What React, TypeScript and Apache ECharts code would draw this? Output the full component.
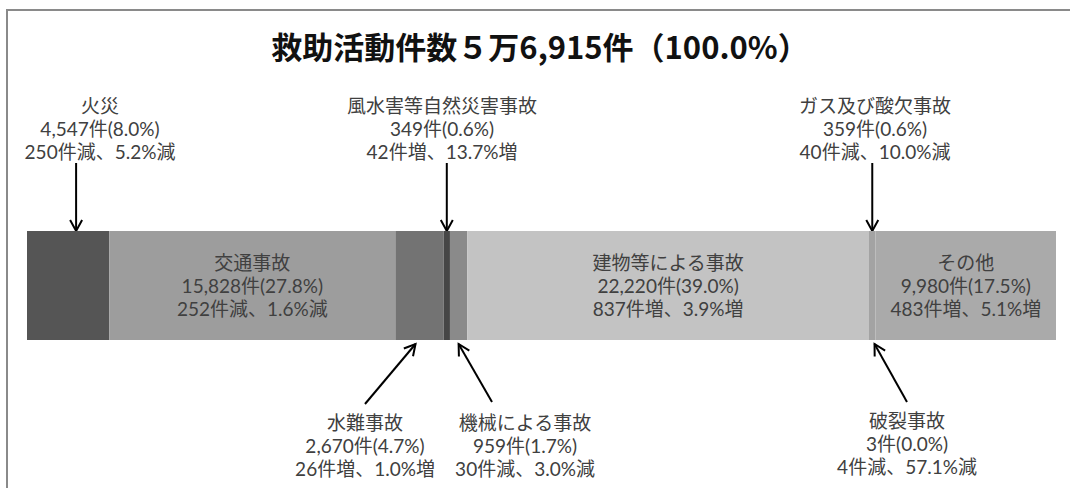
import React, { useEffect, useRef } from "react";
import * as echarts from "echarts";

const categories = [
  "火災",
  "交通事故",
  "水難事故",
  "風水害等自然災害事故",
  "機械による事故",
  "建物等による事故",
  "ガス及び酸欠事故",
  "破裂事故",
  "その他",
];
const counts = [4547, 15828, 2670, 349, 959, 22220, 359, 3, 9980];
const shares = [8.0, 27.8, 4.7, 0.6, 1.7, 39.0, 0.6, 0.0, 17.5];
const changeCounts = [-250, -252, 26, 42, -30, 837, -40, -4, 483];
const changeRates = [-5.2, -1.6, 1.0, 13.7, -3.0, 3.9, -10.0, -57.1, 5.1];
const colors = ["#555555", "#9d9d9d", "#737373", "#464646", "#8a8a8a", "#c3c3c3", "#a3a3a3", "#8c8c8c", "#aaaaaa"];
const total = 56915;
const titleText = "救助活動件数５万6,915件（100.0%）";
const insideLabelIdx = [1, 5, 8];

// callout layout (text block positions, arrow tails / tip nudges)
const callouts = [
  { idx: 0, side: "top", tx: 100, ty: 105, tipDx: 8 },
  { idx: 3, side: "top", tx: 442, ty: 105, tipDx: 0 },
  { idx: 6, side: "top", tx: 875, ty: 105, tipDx: 0 },
  { idx: 2, side: "bottom", tx: 365, ty: 422, tailX: 365, tailY: 404, tipDx: -4 },
  { idx: 4, side: "bottom", tx: 525, ty: 422, tailX: 492, tailY: 402, tipDx: 0 },
  { idx: 7, side: "bottom", tx: 907, ty: 420, tailX: 907, tailY: 402, tipDx: -1 },
];

const FONT = 'Lato, "Noto Sans CJK JP", sans-serif';
const TITLE_FONT = '"Noto Sans CJK JP", sans-serif';
const GRID_TOP = 231;
const GRID_H = 109;
const LINE_H = 23;
const LABEL_SIZE = 19;
const TEXT_COLOR = "#404040";

function fmtChange(i: number) {
  const c = changeCounts[i];
  const r = changeRates[i];
  const w = c >= 0 ? "増" : "減";
  return `${Math.abs(c)}件${w}、${Math.abs(r).toFixed(1)}%${w}`;
}
function labelLines(i: number) {
  return [
    categories[i],
    `${counts[i].toLocaleString("en-US")}件(${shares[i].toFixed(1)}%)`,
    fmtChange(i),
  ];
}

function textLines(i: number, x: number, yFirst: number) {
  return labelLines(i).map((t, k) => ({
    type: "text",
    x,
    y: yFirst + k * LINE_H,
    z: 10,
    style: {
      text: t,
      fill: TEXT_COLOR,
      fontSize: LABEL_SIZE,
      fontFamily: FONT,
      align: "center",
      verticalAlign: "middle",
      textAlign: "center",
      textVerticalAlign: "middle",
    },
    silent: true,
  }));
}

function arrow(x1: number, y1: number, x2: number, y2: number) {
  const dx = x2 - x1;
  const dy = y2 - y1;
  const len = Math.sqrt(dx * dx + dy * dy);
  const ux = dx / len;
  const uy = dy / len;
  const px = -uy;
  const py = ux;
  const hl = 11;
  const hw = 6;
  return [
    {
      type: "line",
      shape: { x1, y1, x2, y2 },
      style: { stroke: "#000", lineWidth: 2 },
      silent: true,
    },
    {
      type: "polyline",
      shape: {
        points: [
          [x2 - hl * ux + hw * px, y2 - hl * uy + hw * py],
          [x2, y2],
          [x2 - hl * ux - hw * px, y2 - hl * uy - hw * py],
        ],
      },
      style: { stroke: "#000", lineWidth: 2, fill: "none" },
      silent: true,
    },
  ];
}

export default function App() {
  const ref = useRef<HTMLDivElement>(null);
  useEffect(() => {
    if (!ref.current) return;
    document.body.style.margin = "0";
    document.body.style.overflow = "hidden";
    document.documentElement.style.overflow = "hidden";
    const chart = echarts.init(ref.current, null, { renderer: "svg" });
    const series = categories.map((name, i) => ({
      type: "bar",
      name,
      stack: "total",
      barWidth: "100%",
      data: [counts[i]],
      itemStyle: { color: colors[i] },
      label: { show: false },
    }));
    chart.setOption({
      animation: false,
      backgroundColor: "#ffffff",
      grid: { left: 27, right: 14, top: GRID_TOP, height: GRID_H },
      xAxis: { type: "value", min: 0, max: total, show: false },
      yAxis: { type: "category", data: [""], show: false },
      series,
    });

    const starts: number[] = [];
    let acc = 0;
    counts.forEach((c) => {
      starts.push(acc);
      acc += c;
    });
    const centerPx = (i: number) =>
      chart.convertToPixel({ xAxisIndex: 0 } as any, starts[i] + counts[i] / 2) as unknown as number;

    const graphic: any[] = [
      {
        type: "line",
        shape: { x1: 6, y1: 10, x2: 1070, y2: 10 },
        style: { stroke: "#8a8a8a", lineWidth: 2 },
        silent: true,
      },
      {
        type: "line",
        shape: { x1: 7, y1: 9, x2: 7, y2: 488 },
        style: { stroke: "#8a8a8a", lineWidth: 2 },
        silent: true,
      },
      {
        type: "text",
        x: 540,
        y: 45,
        style: {
          text: titleText,
          fill: "#111",
          fontSize: 31,
          fontWeight: "bold",
          fontFamily: TITLE_FONT,
          align: "center",
          verticalAlign: "middle",
          textAlign: "center",
          textVerticalAlign: "middle",
        },
        silent: true,
      },
    ];
    const barMid = GRID_TOP + GRID_H / 2;
    insideLabelIdx.forEach((i) => {
      graphic.push(...textLines(i, centerPx(i), barMid - LINE_H));
    });
    callouts.forEach((c) => {
      graphic.push(...textLines(c.idx, c.tx, c.ty));
      const cx = centerPx(c.idx) + c.tipDx;
      if (c.side === "top") {
        graphic.push(...arrow(cx, 163, cx, GRID_TOP));
      } else {
        graphic.push(...arrow(c.tailX as number, c.tailY as number, cx, GRID_TOP + GRID_H + 4));
      }
    });
    chart.setOption({ graphic });
    return () => chart.dispose();
  }, []);
  return (
    <div
      ref={ref}
      style={{ position: "fixed", left: 0, top: 0, width: 1070, height: 488, background: "#fff" }}
    />
  );
}
